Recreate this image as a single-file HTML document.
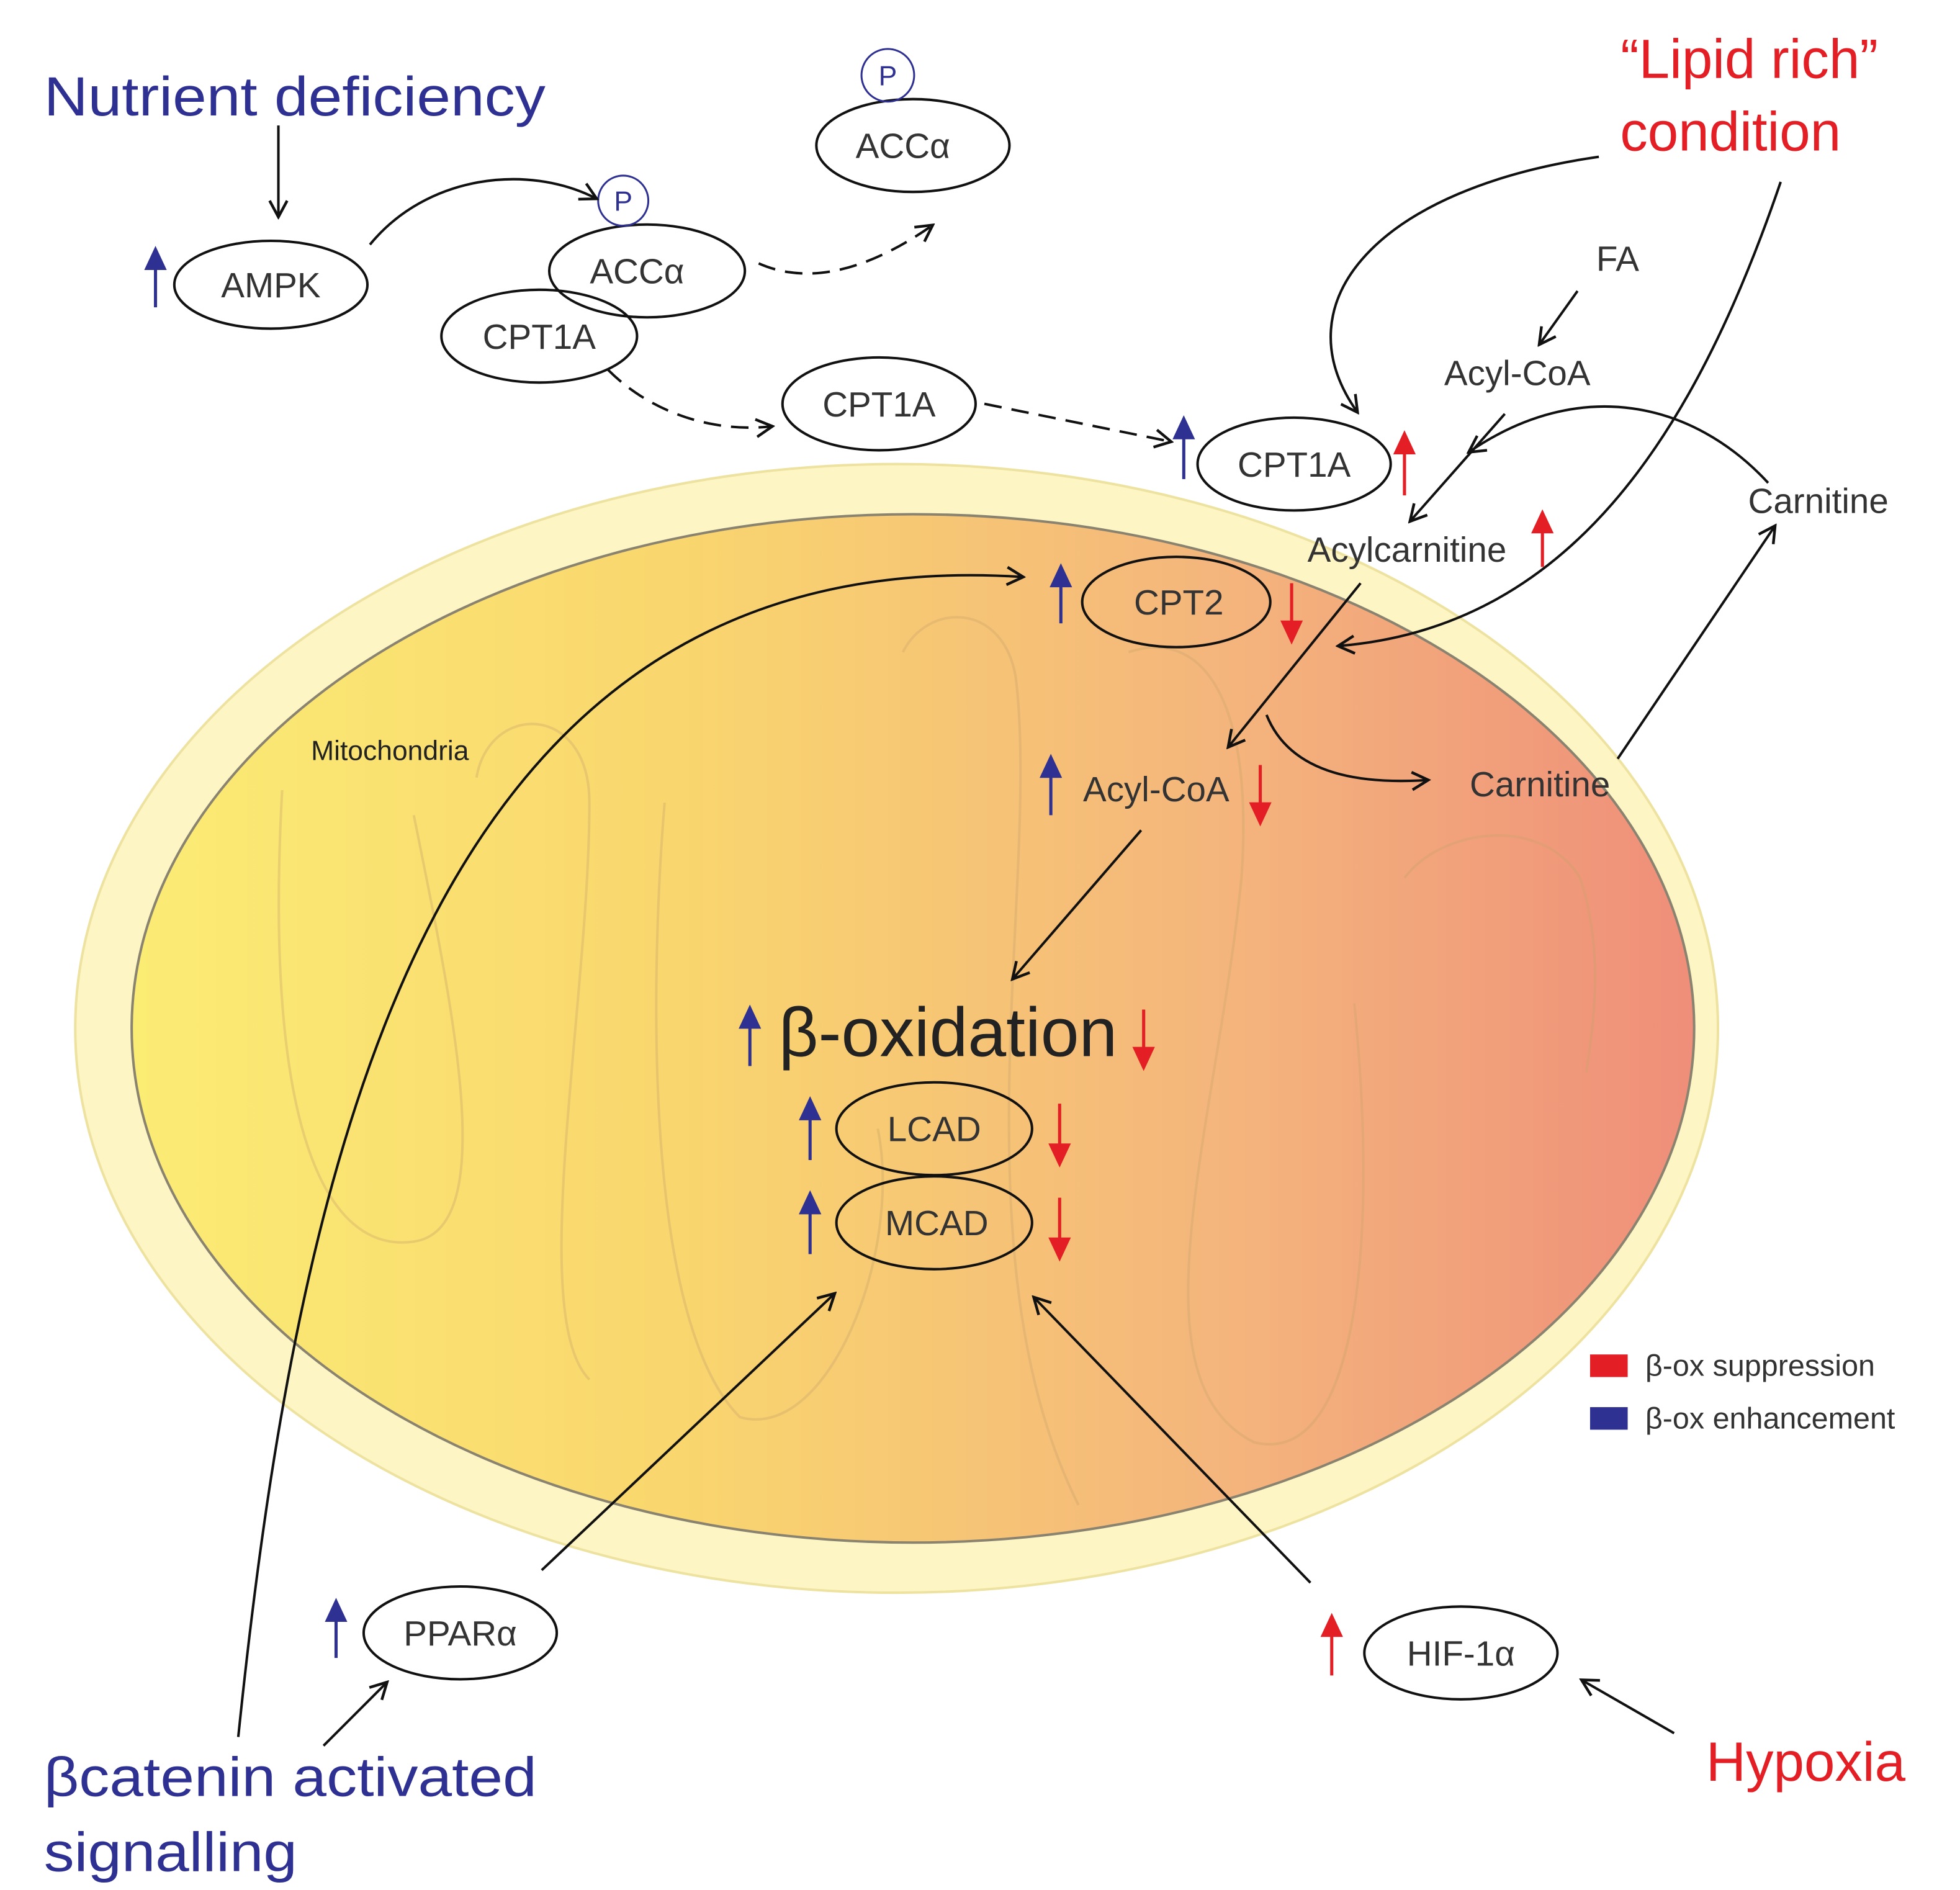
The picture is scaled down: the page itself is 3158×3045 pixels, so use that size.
<!DOCTYPE html>
<html><head><meta charset="utf-8"><style>
html,body{margin:0;padding:0;background:#fff;}
svg{display:block;}
text{font-family:"Liberation Sans",sans-serif;}
</style></head><body>
<svg width="3158" height="3045" viewBox="0 0 1563 1507" xmlns="http://www.w3.org/2000/svg">
<defs>
<linearGradient id="g" x1="0" x2="1" y1="0" y2="0">
<stop offset="0" stop-color="#fbec74"/><stop offset="0.35" stop-color="#f9d66e"/>
<stop offset="0.7" stop-color="#f4b57c"/><stop offset="1" stop-color="#ef8e7a"/>
</linearGradient>
<marker id="a" markerWidth="16" markerHeight="16" refX="13" refY="8" orient="auto" markerUnits="userSpaceOnUse"><path d="M1,1 L14,8 L1,15" fill="none" stroke="#111" stroke-width="2.2"/></marker>
</defs>
<ellipse cx="715" cy="820" rx="655" ry="450" fill="#fdf5c4" stroke="#eee2a0" stroke-width="2"/>
<ellipse cx="728" cy="820" rx="623" ry="410" fill="url(#g)" stroke="#8a8370" stroke-width="2"/>
<g fill="none" stroke="#c9a36a" stroke-width="2" opacity="0.35">
<path d="M225,630 C210,900 260,1000 330,990 C400,980 360,800 330,650"/>
<path d="M380,620 C390,560 470,560 470,640 C470,800 420,1050 470,1100"/>
<path d="M530,640 C520,760 510,1050 590,1130 C660,1150 720,1000 700,900"/>
<path d="M720,520 C740,480 800,480 810,540 C830,700 760,1000 860,1200"/>
<path d="M900,520 C960,500 1000,560 990,700 C970,900 900,1100 1000,1150 C1080,1170 1100,1000 1080,800"/>
<path d="M1120,700 C1150,660 1230,650 1260,700 C1280,760 1270,820 1265,855"/>
</g>
<g font-size="28" fill="#333" text-anchor="middle" stroke="#111" stroke-width="2">
<ellipse cx="216" cy="227" rx="77" ry="35" fill="#fff"/>
<ellipse cx="516" cy="216" rx="78" ry="37" fill="none"/>
<ellipse cx="430" cy="268" rx="78" ry="37" fill="none"/>
<ellipse cx="728" cy="116" rx="77" ry="37" fill="#fff"/>
<ellipse cx="701" cy="322" rx="77" ry="37" fill="#fff"/>
<ellipse cx="1032" cy="370" rx="77" ry="37" fill="#fff"/>
<ellipse cx="938" cy="480" rx="75" ry="36" fill="none"/>
<ellipse cx="745" cy="900" rx="78" ry="37" fill="none"/>
<ellipse cx="745" cy="975" rx="78" ry="37" fill="none"/>
<ellipse cx="367" cy="1302" rx="77" ry="37" fill="#fff"/>
<ellipse cx="1165" cy="1318" rx="77" ry="37" fill="#fff"/>
</g>
<g fill="none" stroke="#2e3192" stroke-width="1.5"><circle cx="497" cy="160" r="20"/><circle cx="708" cy="60" r="21"/></g>
<g font-size="22" fill="#2e3192" text-anchor="middle"><text x="497" y="168">P</text><text x="708" y="68">P</text></g>
<g font-size="28" fill="#333" text-anchor="middle">
<text x="216" y="237">AMPK</text><text x="508" y="226">ACCα</text><text x="430" y="278">CPT1A</text>
<text x="720" y="126">ACCα</text><text x="701" y="332">CPT1A</text><text x="1032" y="380">CPT1A</text>
<text x="940" y="490">CPT2</text><text x="745" y="910">LCAD</text><text x="747" y="985">MCAD</text>
<text x="367" y="1312">PPARα</text><text x="1165" y="1328">HIF-1α</text>
<text x="1290" y="216">FA</text><text x="1210" y="307">Acyl-CoA</text><text x="1450" y="409">Carnitine</text>
<text x="1122" y="448">Acylcarnitine</text><text x="922" y="639">Acyl-CoA</text><text x="1228" y="635">Carnitine</text>
</g>
<text x="248" y="606" font-size="22" fill="#222">Mitochondria</text>
<text x="756" y="842" font-size="55" fill="#222" text-anchor="middle">β-oxidation</text>
<g font-size="44" fill="#2e3192"><text x="35" y="92" textLength="400" lengthAdjust="spacingAndGlyphs">Nutrient deficiency</text><text x="35" y="1432" textLength="393" lengthAdjust="spacingAndGlyphs">βcatenin activated</text><text x="35" y="1492" textLength="202" lengthAdjust="spacingAndGlyphs">signalling</text></g>
<g font-size="44" fill="#e31e24" text-anchor="middle"><text x="1395" y="62">“Lipid rich”</text><text x="1380" y="120">condition</text><text x="1440" y="1420">Hypoxia</text></g>
<g fill="none" stroke="#111" stroke-width="2" marker-end="url(#a)">
<path d="M222,100 L222,172"/>
<path d="M295,195 C340,140 420,130 475,158"/>
<path d="M605,210 C650,230 700,210 743,180" stroke-dasharray="14,8"/>
<path d="M485,295 C520,330 570,345 615,340" stroke-dasharray="14,8"/>
<path d="M785,322 L933,352" stroke-dasharray="14,8"/>
<path d="M1275,125 C1100,150 1020,240 1082,328"/>
<path d="M1258,232 L1228,274"/>
<path d="M1200,330 L1125,415"/>
<path d="M1410,385 C1350,320 1260,300 1172,360"/>
<path d="M1420,145 C1350,350 1250,500 1068,515"/>
<path d="M190,1385 C240,900 350,430 815,460"/>
<path d="M1085,465 L980,595"/>
<path d="M1010,570 C1030,620 1090,625 1138,622"/>
<path d="M1290,605 L1415,420"/>
<path d="M910,662 L808,780"/>
<path d="M432,1252 L665,1032"/>
<path d="M258,1392 L308,1342"/>
<path d="M1045,1262 L825,1035"/>
<path d="M1335,1382 L1262,1340"/>
</g>
<g stroke="#2e3192" stroke-width="2.5" fill="#2e3192">
<path d="M124,245 V210"/><path d="M117,214 L124,199 L131,214Z"/>
<path d="M944,382 V345"/><path d="M937,349 L944,334 L951,349Z"/>
<path d="M846,497 V463"/><path d="M839,467 L846,452 L853,467Z"/>
<path d="M838,650 V615"/><path d="M831,619 L838,604 L845,619Z"/>
<path d="M598,850 V815"/><path d="M591,819 L598,804 L605,819Z"/>
<path d="M646,925 V888"/><path d="M639,892 L646,877 L653,892Z"/>
<path d="M646,1000 V963"/><path d="M639,967 L646,952 L653,967Z"/>
<path d="M268,1322 V1288"/><path d="M261,1292 L268,1277 L275,1292Z"/>
</g>
<g stroke="#e31e24" stroke-width="2.5" fill="#e31e24">
<path d="M1120,395 V357"/><path d="M1113,361 L1120,346 L1127,361Z"/>
<path d="M1230,452 V420"/><path d="M1223,424 L1230,409 L1237,424Z"/>
<path d="M1062,1336 V1300"/><path d="M1055,1304 L1062,1289 L1069,1304Z"/>
<path d="M1030,465 V500"/><path d="M1023,496 L1030,511 L1037,496Z"/>
<path d="M1005,610 V645"/><path d="M998,641 L1005,656 L1012,641Z"/>
<path d="M912,805 V840"/><path d="M905,836 L912,851 L919,836Z"/>
<path d="M845,880 V917"/><path d="M838,913 L845,928 L852,913Z"/>
<path d="M845,955 V992"/><path d="M838,988 L845,1003 L852,988Z"/>
</g>
<rect x="1268" y="1080" width="30" height="18" fill="#e31e24"/>
<rect x="1268" y="1122" width="30" height="18" fill="#2e3192"/>
<g font-size="24" fill="#333"><text x="1312" y="1097">β-ox suppression</text><text x="1312" y="1139">β-ox enhancement</text></g>
</svg>
</body></html>
